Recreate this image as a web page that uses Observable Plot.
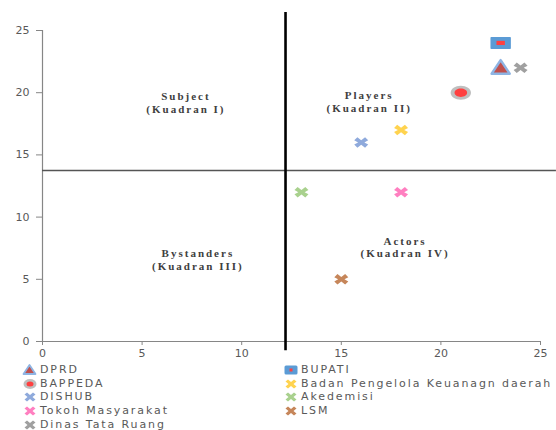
<!DOCTYPE html>
<html>
<head>
<meta charset="utf-8">
<script src="https://cdn.jsdelivr.net/npm/d3@7"></script>
<script src="https://cdn.jsdelivr.net/npm/@observablehq/plot@0.6"></script>
<style>
  html, body { margin: 0; padding: 0; background: #fff; }
  #chart { width: 556px; }
  .quad text { letter-spacing: 2px; }
  .legend { display: grid; grid-template-columns: 263px 293px; font-family: "DejaVu Sans", sans-serif; font-size: 11px; letter-spacing: 1.9px; color: #595959; margin-top: 2px; }
  .legend div { height: 13.7px; line-height: 13.7px; display: flex; align-items: center; white-space: nowrap; }
  .legend svg { flex: none; margin-right: 2px; }
</style>
</head>
<body>
<div id="chart"></div>
<script>
// ---- data ----
const names = ["DPRD", "BUPATI", "BAPPEDA", "Badan Pengelola Keuanagn daerah", "DISHUB", "Akedemisi", "Tokoh Masyarakat", "LSM", "Dinas Tata Ruang"];
const xs = [23, 23, 21, 18, 16, 13, 18, 15, 24];
const ys = [22, 24, 20, 17, 16, 12, 12, 5, 22];
const xTicks = [0, 5, 10, 15, 20, 25];
const yTicks = [0, 5, 10, 15, 20, 25];
const quadX = 12.2;
const quadY = 13.75;
const quadTitles = ["Subject", "Players", "Bystanders", "Actors"];
const quadSubs = ["(Kuadran I)", "(Kuadran II)", "(Kuadran III)", "(Kuadran IV)"];
const quadLX = [7.2, 16.4, 7.8, 18.2];
const quadLY = [19.2, 19.3, 6.6, 7.6];

// ---- styles ----
const markerStyle = {
  "DPRD": {type: "tri", fill: "#c0504d", stroke: "#8eb4e3"},
  "BUPATI": {type: "rect", fill: "#5b9bd5", inner: "#ff4040"},
  "BAPPEDA": {type: "ell", fill: "#bfbfbf", inner: "#ff4040"},
  "Badan Pengelola Keuanagn daerah": {type: "x", fill: "#ffd34f"},
  "DISHUB": {type: "x", fill: "#8faadc"},
  "Akedemisi": {type: "x", fill: "#a9d18e"},
  "Tokoh Masyarakat": {type: "x", fill: "#ff7fc0"},
  "LSM": {type: "x", fill: "#c6865a"},
  "Dinas Tata Ruang": {type: "x", fill: "#a0a0a0"}
};

const data = names.map((n, i) => ({name: n, x: xs[i], y: ys[i]}));

// custom symbols
function rectSym(a, b) {
  return {draw(ctx, size) { const r = Math.sqrt(size / Math.PI); ctx.rect(-r * a, -r * b, 2 * r * a, 2 * r * b); }};
}
function ellSym(a, b) {
  return {draw(ctx, size) {
    const r = Math.sqrt(size / Math.PI), rx = r * a, ry = r * b, k = 0.5523;
    ctx.moveTo(rx, 0);
    ctx.bezierCurveTo(rx, ry * k, rx * k, ry, 0, ry);
    ctx.bezierCurveTo(-rx * k, ry, -rx, ry * k, -rx, 0);
    ctx.bezierCurveTo(-rx, -ry * k, -rx * k, -ry, 0, -ry);
    ctx.bezierCurveTo(rx * k, -ry, rx, -ry * k, rx, 0);
    ctx.closePath();
  }};
}
function triSym() {
  return {draw(ctx, size) {
    const r = Math.sqrt(size / Math.PI);
    ctx.moveTo(0, -r * 0.85); ctx.lineTo(r, r * 0.65); ctx.lineTo(-r, r * 0.65); ctx.closePath();
  }};
}
function xSym() {
  return {draw(ctx, size) {
    const r = Math.sqrt(size / Math.PI);
    const w = r, h = r * 0.75, t = r * 0.45;
    ctx.moveTo(-w, -h + t); ctx.lineTo(-w + t, -h); ctx.lineTo(0, -t * 0.7); ctx.lineTo(w - t, -h); ctx.lineTo(w, -h + t);
    ctx.lineTo(t * 1.0, 0); ctx.lineTo(w, h - t); ctx.lineTo(w - t, h); ctx.lineTo(0, t * 0.7); ctx.lineTo(-w + t, h);
    ctx.lineTo(-w, h - t); ctx.lineTo(-t * 1.0, 0); ctx.closePath();
  }};
}

const byType = t => data.filter(d => markerStyle[d.name].type === t);
const xData = byType("x");

const marks = [
  Plot.axisY({ticks: yTicks, tickSize: 6, tickPadding: 7, stroke: "#868686", color: "#595959", fontSize: 11, label: null}),
  Plot.axisX({ticks: xTicks, tickSize: 4, tickPadding: 4, stroke: "#868686", color: "#595959", fontSize: 11, label: null}),
  Plot.ruleX([0], {stroke: "#868686", strokeWidth: 1.2}),
  Plot.ruleY([0], {stroke: "#868686", strokeWidth: 1.2}),
  Plot.ruleY([quadY], {x1: 0, x2: 25.8, stroke: "#555", strokeWidth: 1.5}),
  Plot.ruleX([quadX], {y1: -0.75, y2: 26.45, stroke: "#000", strokeWidth: 2.6}),
  Plot.text(quadTitles.map((t, i) => ({t: t + "\n" + quadSubs[i], x: quadLX[i], y: quadLY[i]})), {
    x: "x", y: "y", text: "t", fontFamily: "Liberation Serif", fontWeight: "bold", fontSize: 11, fill: "#404040", lineHeight: 1.15, lineAnchor: "middle",
    className: "quad"
  }),
  Plot.dot(xData, {x: "x", y: "y", r: 7, symbol: xSym(), fill: d => markerStyle[d.name].fill, stroke: "none"}),
  Plot.dot(byType("ell"), {x: "x", y: "y", r: 7, symbol: ellSym(1.45, 1.0), fill: d => markerStyle[d.name].fill, stroke: "none"}),
  Plot.dot(byType("ell"), {x: "x", y: "y", r: 7, symbol: ellSym(0.9, 0.6), fill: d => markerStyle[d.name].inner, stroke: "none"}),
  Plot.dot(byType("rect"), {x: "x", y: "y", r: 7, symbol: rectSym(1.35, 0.75), fill: d => markerStyle[d.name].fill, stroke: d => markerStyle[d.name].fill, strokeWidth: 1.5, strokeLinejoin: "round"}),
  Plot.dot(byType("rect"), {x: "x", y: "y", r: 7, symbol: rectSym(0.6, 0.3), fill: d => markerStyle[d.name].inner, stroke: "none"}),
  Plot.dot(byType("tri"), {x: "x", y: "y", r: 9, symbol: triSym(), fill: d => markerStyle[d.name].fill, stroke: d => markerStyle[d.name].stroke, strokeWidth: 2.5, strokeLinejoin: "round"})
];

const chart = Plot.plot({
  width: 556,
  height: 361,
  marginLeft: 42,
  marginRight: 16,
  marginTop: 30,
  marginBottom: 20,
  x: {domain: [0, 25]},
  y: {domain: [0, 25]},
  style: {fontFamily: "DejaVu Sans", background: "#fff", overflow: "visible"},
  marks
});
document.getElementById("chart").appendChild(chart);

// ---- legend ----
function swatch(name) {
  const s = markerStyle[name];
  let inner = "";
  if (s.type === "tri") inner = `<path d="M7,2 L13,11 L1,11 Z" fill="${s.fill}" stroke="${s.stroke}" stroke-width="1.8" stroke-linejoin="round"/>`;
  else if (s.type === "rect") inner = `<rect x="1" y="2.5" width="13" height="9" rx="1.5" fill="${s.fill}"/><rect x="6" y="5.5" width="3" height="3" fill="${s.inner}"/>`;
  else if (s.type === "ell") inner = `<ellipse cx="7.5" cy="7" rx="6.5" ry="5" fill="${s.fill}"/><ellipse cx="7.5" cy="7" rx="3.5" ry="2.5" fill="${s.inner}"/>`;
  else inner = `<path d="M2,4.5 L4.5,2.5 L7.5,5 L10.5,2.5 L13,4.5 L10,7 L13,9.5 L10.5,11.5 L7.5,9 L4.5,11.5 L2,9.5 L5,7 Z" fill="${s.fill}"/>`;
  return `<svg width="16" height="14" viewBox="0 0 15 14">${inner}</svg>`;
}
const legend = document.createElement("div");
legend.className = "legend";
const leftCol = [0, 2, 4, 6, 8], rightCol = [1, 3, 5, 7];
for (let r = 0; r < 5; r++) {
  for (const [col, idx] of [[0, leftCol[r]], [1, rightCol[r]]]) {
    const cell = document.createElement("div");
    if (idx !== undefined) cell.innerHTML = swatch(names[idx]) + `<span>${names[idx]}</span>`;
    cell.style.paddingLeft = col === 0 ? "22px" : "20px";
    legend.appendChild(cell);
  }
}
document.getElementById("chart").appendChild(legend);
</script>
</body>
</html>
